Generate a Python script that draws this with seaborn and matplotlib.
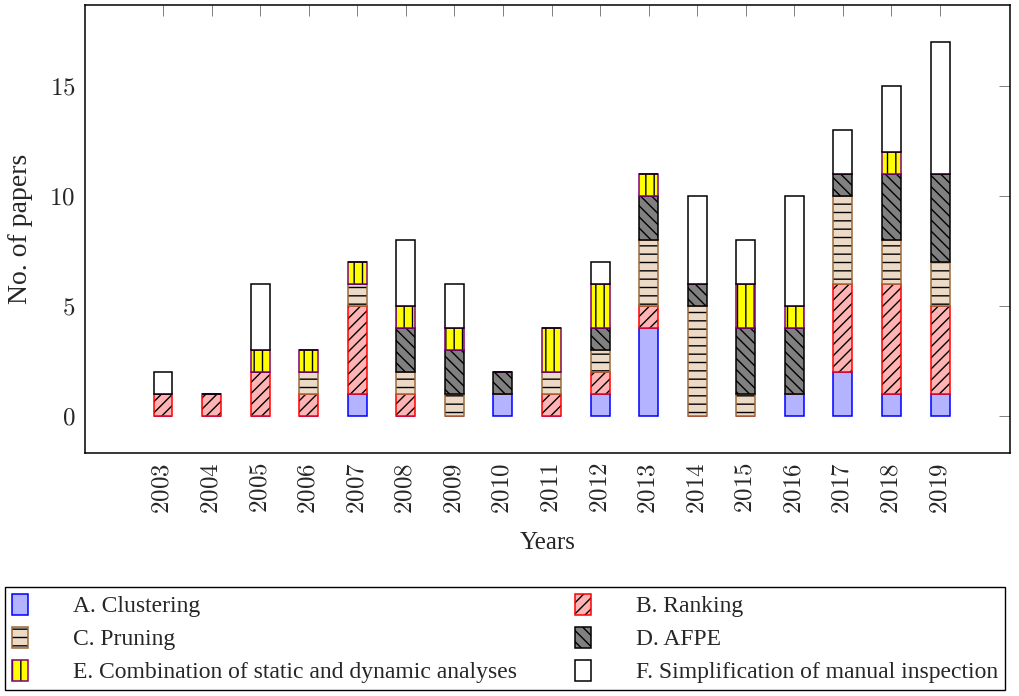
import matplotlib
matplotlib.use("Agg")
import matplotlib.pyplot as plt
import matplotlib.patches as mpatches
import pandas as pd
import seaborn as sns

years = [str(y) for y in range(2003, 2020)]
clustering = [0, 0, 0, 0, 1, 0, 0, 1, 0, 1, 4, 0, 0, 1, 2, 1, 1]
ranking = [1, 1, 2, 1, 4, 1, 0, 0, 1, 1, 1, 0, 0, 0, 4, 5, 4]
pruning = [0, 0, 0, 1, 1, 1, 1, 0, 1, 1, 3, 5, 1, 0, 4, 2, 2]
afpe = [0, 0, 0, 0, 0, 2, 2, 1, 0, 1, 2, 1, 3, 3, 1, 3, 4]
combination = [0, 0, 1, 1, 1, 1, 1, 0, 2, 2, 1, 0, 2, 1, 0, 1, 0]
manual = [1, 0, 3, 0, 0, 3, 2, 0, 0, 1, 0, 4, 2, 5, 2, 3, 6]

labels = ["A. Clustering", "B. Ranking", "C. Pruning", "D. AFPE",
          "E. Combination of static and dynamic analyses",
          "F. Simplification of manual inspection"]
series = [clustering, ranking, pruning, afpe, combination, manual]

# (fill, edge, hatch)
styles = [
    ("#b3b3ff", "#0000ff", None),
    ("#ffb3b3", "#ff0000", "///"),
    ("#ecdac6", "#9a6a3a", "--"),
    ("#808080", "#000000", "\\\\\\"),
    ("#ffff00", "#800080", "||"),
    ("#ffffff", "#000000", None),
]

sns.set_theme(style="white")
plt.rcParams["font.family"] = ["Liberation Serif", "DejaVu Serif"]
plt.rcParams["mathtext.fontset"] = "cm"
plt.rcParams["hatch.color"] = "black"
plt.rcParams["hatch.linewidth"] = 1.0

fig = plt.figure(figsize=(10.2, 6.96), dpi=100)
ax = fig.add_axes([85 / 1020, 243 / 696, 925 / 1020, 448 / 696])

df = pd.DataFrame({"year": years})
bottom = [0] * len(years)
handles = []
for vals, (fc, ec, hatch) in zip(series, styles):
    df["n"] = vals
    # fill + black hatch, then the coloured outline on top
    sns.barplot(data=df, x="year", y="n", order=years, color=fc, saturation=1,
                width=0.39, errorbar=None, bottom=bottom, edgecolor="black",
                linewidth=0, hatch=hatch, ax=ax)
    sns.barplot(data=df, x="year", y="n", order=years, color=fc, saturation=1,
                width=0.39, errorbar=None, bottom=bottom, facecolor="none",
                edgecolor=ec, linewidth=1.1, ax=ax)
    bottom = [b + v for b, v in zip(bottom, vals)]
    handles.append((mpatches.Patch(facecolor=fc, edgecolor="black", linewidth=0, hatch=hatch),
                    mpatches.Patch(facecolor="none", edgecolor=ec, linewidth=1.1)))

ax.set_xlim(-1.606, 17.44)
ax.set_ylim(-1.7, 18.7)
ax.set_yticks([0, 5, 10, 15])
ax.set_yticklabels([f"${v}$" for v in [0, 5, 10, 15]])
ax.set_xticks(range(len(years)))
ax.set_xticklabels([f"${y}$" for y in years], rotation=90)
ax.tick_params(direction="in", length=8, width=0.7, color="grey",
               top=True, right=True, labelsize=18, pad=7)
for s in ax.spines.values():
    s.set_color("black")
    s.set_linewidth(1.1)
    s.set_visible(True)

ax.set_xlabel("Years", fontsize=18, labelpad=13)
ax.set_ylabel("No. of papers", fontsize=20, labelpad=12)

order = [0, 2, 4, 1, 3, 5]
leg = fig.legend([handles[i] for i in order], [labels[i] for i in order],
                 loc="lower left", bbox_to_anchor=(5 / 1020, 6 / 696, 1000 / 1020, 102 / 696),
                 mode="expand", ncol=2, fancybox=False, edgecolor="black",
                 fontsize=17, handlelength=0.7, handleheight=1.0, handletextpad=1.9,
                 labelspacing=0.4, borderaxespad=0, borderpad=0.28, framealpha=1)
leg.get_frame().set_linewidth(1.0)

fig.savefig("out.png", dpi=100)
